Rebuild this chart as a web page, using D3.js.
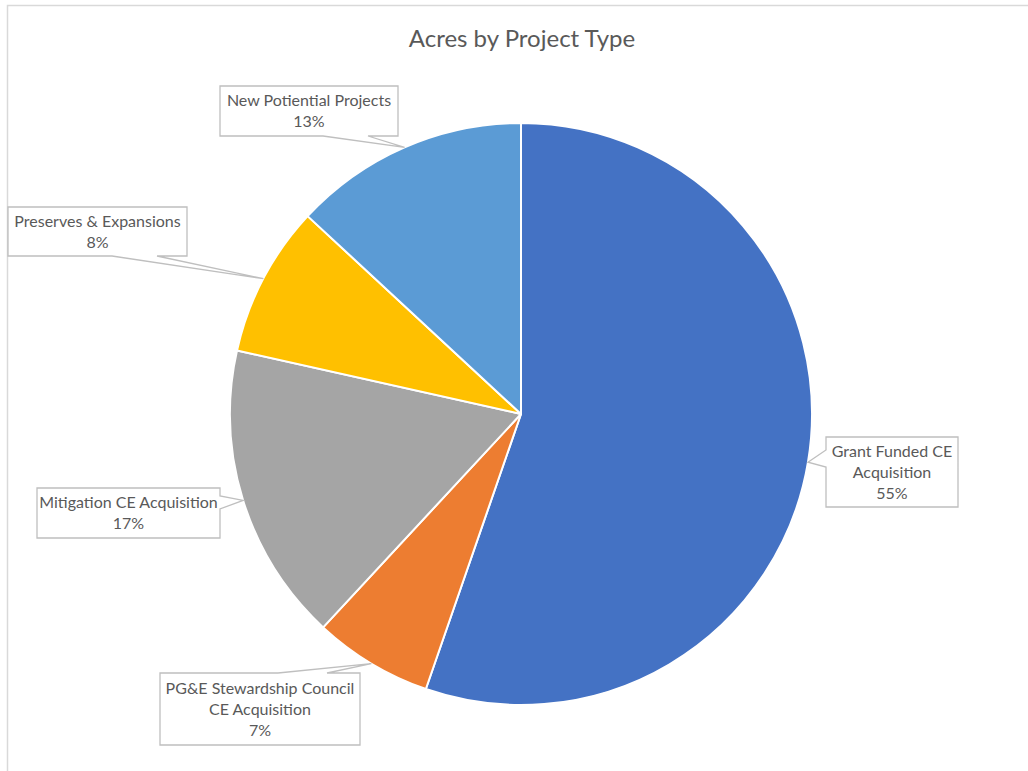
<!DOCTYPE html>
<html>
<head>
<meta charset="utf-8">
<script src="https://cdn.jsdelivr.net/npm/d3@7"></script>
<style>
  html, body { margin: 0; padding: 0; background: #fff; }
  svg { display: block; }
  text { font-family: Lato, "Noto Sans", sans-serif; fill: #595959; }
</style>
</head>
<body>
<svg id="chart" width="1028" height="771"></svg>
<script>
// ---- data ----
const categories = [
  "Grant Funded CE Acquisition",
  "PG&E Stewardship Council CE Acquisition",
  "Mitigation CE Acquisition",
  "Preserves & Expansions",
  "New Potiential Projects"
];
const labelLines = [
  ["Grant Funded CE", "Acquisition"],
  ["PG&E Stewardship Council", "CE Acquisition"],
  ["Mitigation CE Acquisition"],
  ["Preserves & Expansions"],
  ["New Potiential Projects"]
];
const shares = [55.3, 6.6, 16.6, 8.4, 13.1];
const colors = ["#4472C4", "#ED7D31", "#A5A5A5", "#FFC000", "#5B9BD5"];
const title = "Acres by Project Type";

// ---- layout (label callout boxes) ----
const boxes = [
  {x: 826, y: 437, w: 132, h: 70, side: "left",   b: [450, 467]},
  {x: 160, y: 673, w: 200, h: 72, side: "top",    b: [278, 327]},
  {x: 37,  y: 488, w: 183, h: 50, side: "right",  b: [496, 509]},
  {x: 8,   y: 207, w: 179, h: 49, side: "bottom", b: [112, 157]},
  {x: 220, y: 86,  w: 178, h: 50, side: "bottom", b: [323, 368]}
];

const svg = d3.select("#chart");
const W = 1028, H = 771;

// chart area border (partially visible)
svg.append("path")
  .attr("d", `M7.5,${H} L7.5,5.5 L${W},5.5`)
  .attr("fill", "none").attr("stroke", "#D9D9D9").attr("stroke-width", 1.5);

svg.append("text")
  .attr("x", 522).attr("y", 47)
  .attr("text-anchor", "middle")
  .attr("font-size", 24)
  .text(title);

const cx = 521, cy = 414, r = 291;
const total = d3.sum(shares);
const pie = d3.pie().sort(null).value(d => d)(shares);
const arc = d3.arc().innerRadius(0).outerRadius(r);
const edgeArc = d3.arc().innerRadius(r).outerRadius(r);

const g = svg.append("g").attr("transform", `translate(${cx},${cy})`);
g.selectAll("path.slice").data(pie).join("path")
  .attr("class", "slice")
  .attr("d", arc)
  .attr("fill", (d, i) => colors[i])
  .attr("stroke", "#fff").attr("stroke-width", 2).attr("stroke-linejoin", "round");

// callouts
function calloutPath(bx, tip) {
  const {x, y, w, h, side, b} = bx;
  const x2 = x + w, y2 = y + h;
  const [tx, ty] = tip;
  if (side === "bottom")
    return `M${x},${y} H${x2} V${y2} H${b[1]} L${tx},${ty} L${b[0]},${y2} H${x} Z`;
  if (side === "top")
    return `M${x},${y} H${b[0]} L${tx},${ty} L${b[1]},${y} H${x2} V${y2} H${x} Z`;
  if (side === "right")
    return `M${x},${y} H${x2} V${b[0]} L${tx},${ty} L${x2},${b[1]} V${y2} H${x} Z`;
  // left
  return `M${x},${y} H${x2} V${y2} H${x} V${b[1]} L${tx},${ty} L${x},${b[0]} Z`;
}

pie.forEach((d, i) => {
  const c = edgeArc.centroid(d);
  const tip = [cx + c[0], cy + c[1]];
  const bx = boxes[i];
  svg.append("path")
    .attr("d", calloutPath(bx, tip))
    .attr("fill", "#fff").attr("stroke", "#BFBFBF").attr("stroke-width", 1.3);
  const lines = labelLines[i].concat([Math.round(shares[i] / total * 100) + "%"]);
  const lh = 21;
  const midY = bx.y + bx.h / 2;
  const startY = midY - (lines.length - 1) * lh / 2;
  const t = svg.append("text")
    .attr("text-anchor", "middle")
    .attr("font-size", 16);
  lines.forEach((ln, k) => {
    t.append("tspan")
      .attr("x", bx.x + bx.w / 2)
      .attr("y", startY + k * lh + 5.5)
      .text(ln);
  });
});
</script>
</body>
</html>
